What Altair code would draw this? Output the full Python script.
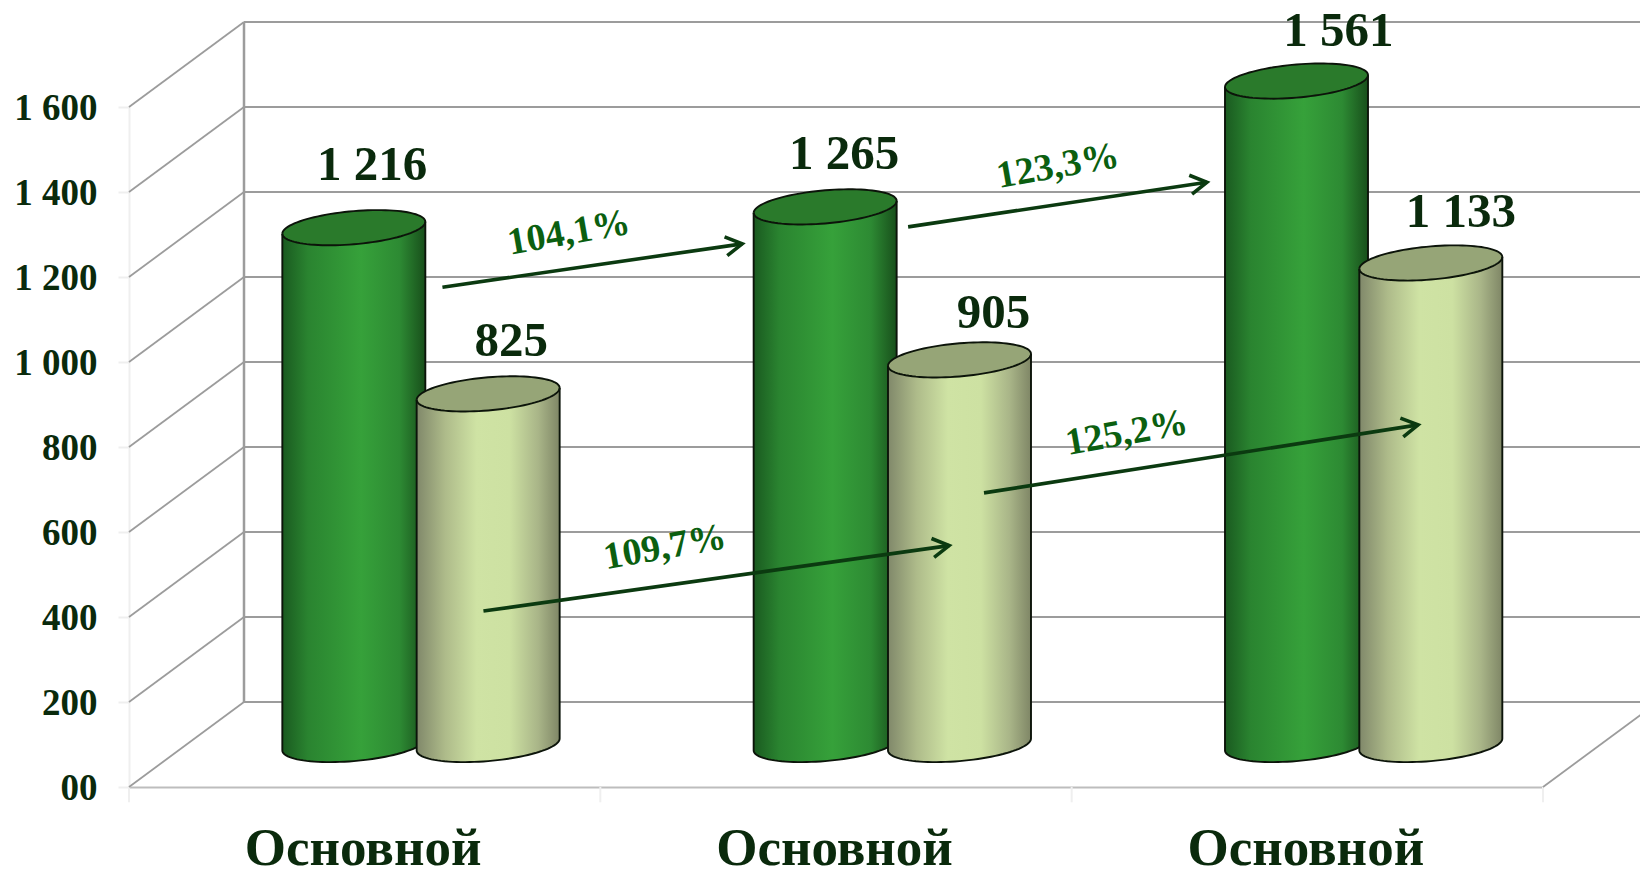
import math
import altair as alt
import pandas as pd

# ---- values ----
categories = ["Основной", "Основной", "Основной"]
series_a = [1216, 1265, 1561]   # dark green
series_b = [825, 905, 1133]     # light green
y_ticks = [0, 200, 400, 600, 800, 1000, 1200, 1400, 1600]
y_tick_labels = ["00", "200", "400", "600", "800", "1 000", "1 200", "1 400", "1 600"]
pct_labels = ["104,1%", "123,3%", "109,7%", "125,2%"]
pct_x = [0.9335, 1.971, 1.137, 2.117]
pct_y = [1303, 1460, 563, 832]
arrows_x = [(0.665, 1.301), (1.653, 2.287), (0.752, 1.740), (1.814, 2.735)]
arrows_y = [(1176, 1278), (1318, 1423), (414, 568), (692, 852)]
# label offsets from the cylinder axis, in chart units
a_label_dx = [0.039, 0.040, 0.089]
a_label_dy = [112, 89, 82]
b_label_dx = [0.049, 0.072, 0.064]
b_label_dy = [89, 74, 85]

# ---- geometry ----
PX_X = 1414 / 3       # pixels per group
PX_Y = 680 / 1600     # pixels per value unit
DEPTH_X = 115 / PX_X
DEPTH_Y = 200
BASE = 100
HALF = 71.5 / PX_X
SHEAR = 14
MINOR = 39
OFF_A, OFF_B = 0.477, 0.762

SERIF = "Liberation Serif"
DARK = "#0a2a0c"
PCT = "#0b5f10"
GRID = "#9c9c9c"
FAINT = "#efefef"

y_expr = "{" + ",".join(f"'{k}':'{v}'" for k, v in zip(y_ticks, y_tick_labels)) + "}[datum.value]"

X_AXIS = alt.Axis(
    title=None, values=[0.5, 1.5, 2.5], labelExpr=f"'{categories[0]}'", ticks=False, grid=False,
    domain=True, domainColor="#bdbdbd", domainWidth=2, labelLimit=600, labelOffset=-2,
    labelFont=SERIF, labelFontSize=53, labelFontWeight="bold", labelColor=DARK,
    labelBaseline="alphabetic", labelPadding=77, labelFlush=False, labelOverlap=False, labelBound=False)
Y_AXIS = alt.Axis(
    title=None, values=y_ticks, labelExpr=y_expr, grid=False,
    domain=True, domainColor=FAINT, domainWidth=2, tickColor=FAINT, tickSize=11, tickWidth=2,
    labelFont=SERIF, labelFontSize=37, labelFontWeight="bold", labelColor=DARK, labelOffset=1,
    labelPadding=21, labelFlush=False, labelOverlap=False, labelBound=False, labelBaseline="middle")


def X(field="x", **kw):
    return alt.X(f"{field}:Q", scale=alt.Scale(domain=[0, 3], nice=False, zero=False), axis=X_AXIS, **kw)


def Y(field="y", **kw):
    return alt.Y(f"{field}:Q", scale=alt.Scale(domain=[0, 1600], nice=False, zero=False), axis=Y_AXIS, **kw)


def rules(rows, color, width):
    df = pd.DataFrame(rows, columns=["x", "y", "x2", "y2"])
    return alt.Chart(df).mark_rule(color=color, strokeWidth=width).encode(
        x=X(), y=Y(), x2="x2:Q", y2="y2:Q")


def arc(cx, cy, sign, n=48):
    pts = []
    for k in range(n + 1):
        c = -math.cos(math.pi * k / n)
        pts.append((cx + HALF * c, cy + SHEAR * c + sign * MINOR * math.sqrt(max(0.0, 1 - c * c))))
    return pts


def cylinder_tables(offset, values):
    body, top, edge = [], [], []
    for i, v in enumerate(values):
        cx = i + offset
        low_top = arc(cx, BASE + v, -1)
        up_top = arc(cx, BASE + v, 1)
        low_base = arc(cx, BASE, -1)
        for (x, yt), (_, yb) in zip(low_top, low_base):
            body.append({"id": i, "x": x, "y": yt, "y2": yb})
        for (x, yu), (_, yl) in zip(up_top, low_top):
            top.append({"id": i, "x": x, "y": yu, "y2": yl})
        path = [low_top[0]] + low_base + [low_top[-1]]
        for k, (x, y) in enumerate(path):
            edge.append({"id": f"b{i}", "x": x, "y": y, "k": k})
        ring = up_top + low_top[::-1]
        for k, (x, y) in enumerate(ring):
            edge.append({"id": f"t{i}", "x": x, "y": y, "k": k})
    return pd.DataFrame(body), pd.DataFrame(top), pd.DataFrame(edge)


def cylinders(offset, values, stops, top_color):
    body, top, edge = cylinder_tables(offset, values)
    grad = alt.Gradient(
        gradient="linear", x1=0, x2=1, y1=0, y2=0,
        stops=[alt.GradientStop(color=c, offset=o) for o, c in stops])
    tops = alt.Chart(top).mark_area(fill=top_color, line=False).encode(
        x=X(), y=Y(), y2="y2:Q", detail="id:N")
    bodies = alt.Chart(body).mark_area(fill=grad, line=False).encode(
        x=X(), y=Y(), y2="y2:Q", detail="id:N")
    lines = alt.Chart(edge).mark_line(color="#0c140a", strokeWidth=1.9).encode(
        x=X(), y=Y(), detail="id:N", order="k:Q")
    return [bodies, tops, lines]


# ---- frame ----
back_left = DEPTH_X
back_right = 3 + DEPTH_X
frame_h = [(back_left, t + DEPTH_Y, back_right, t + DEPTH_Y) for t in y_ticks]
frame_d = [(0, t, DEPTH_X, t + DEPTH_Y) for t in y_ticks] + [(3, 0, 3 + DEPTH_X, DEPTH_Y)]
frame_v = [(back_left, DEPTH_Y, back_left, 1600 + DEPTH_Y)]
faint = [(g, 0, g, -36) for g in range(4)]

green_stops = [(0, "#1a5a20"), (0.18, "#2a8430"), (0.55, "#36a13a"), (0.82, "#2d8a33"), (1, "#184f1b")]
light_stops = [(0, "#80886a"), (0.2, "#aebb8a"), (0.42, "#cfe3a4"), (0.65, "#cde1a2"), (0.85, "#a9b588"), (1, "#7f8666")]

layers = [
    rules(faint, FAINT, 2),
    rules(frame_v, GRID, 2.5),
    rules(frame_h, GRID, 2.2),
    rules(frame_d, GRID, 1.8),
]
layers += cylinders(OFF_A, series_a, green_stops, "#2a7a2b")
layers += cylinders(OFF_B, series_b, light_stops, "#96a577")

# ---- value labels ----
labels = pd.DataFrame(
    [{"x": i + OFF_A + a_label_dx[i], "y": BASE + v + a_label_dy[i], "t": f"{v:,}".replace(",", " ")}
     for i, v in enumerate(series_a)]
    + [{"x": i + OFF_B + b_label_dx[i], "y": BASE + v + b_label_dy[i], "t": f"{v:,}".replace(",", " ")}
       for i, v in enumerate(series_b)])
layers.append(alt.Chart(labels).mark_text(
    font=SERIF, fontSize=49, fontWeight="bold", color=DARK, align="center", baseline="alphabetic"
).encode(x=X(), y=Y(), text="t:N"))

# ---- arrows ----
arrow_rows = []
HEAD = 19
SPREAD = math.radians(30)
for n, ((x0, x1), (y0, y1)) in enumerate(zip(arrows_x, arrows_y)):
    ang = math.atan2((y1 - y0) * PX_Y, (x1 - x0) * PX_X)
    path = [(x0, y0), (x1, y1)]
    wing = []
    for s in (1, -1):
        a = ang + s * SPREAD
        wing.append((x1 - HEAD * math.cos(a) / PX_X, y1 - HEAD * math.sin(a) / PX_Y))
    for k, (x, y) in enumerate(path):
        arrow_rows.append({"id": f"s{n}", "x": x, "y": y, "k": k})
    for k, (x, y) in enumerate([wing[0], (x1, y1), wing[1]]):
        arrow_rows.append({"id": f"h{n}", "x": x, "y": y, "k": k})
layers.append(alt.Chart(pd.DataFrame(arrow_rows)).mark_line(color="#0b3a10", strokeWidth=3.6).encode(
    x=X(), y=Y(), detail="id:N", order="k:Q"))

# ---- percentages ----
pct = pd.DataFrame({"x": pct_x, "y": pct_y, "t": pct_labels})
layers.append(alt.Chart(pct).mark_text(
    font=SERIF, fontSize=38, fontWeight="bold", color=PCT, align="center", baseline="middle", angle=350
).encode(x=X(), y=Y(), text="t:N"))

chart = alt.layer(*layers).properties(
    width=1414, height=680,
    padding={"left": 121, "top": 99, "right": 97, "bottom": 79},
    autosize=alt.AutoSizeParams(type="none"),
    background="white",
).configure_view(stroke=None)

chart.save("out.html", embed_options={"renderer": "svg", "actions": False})
